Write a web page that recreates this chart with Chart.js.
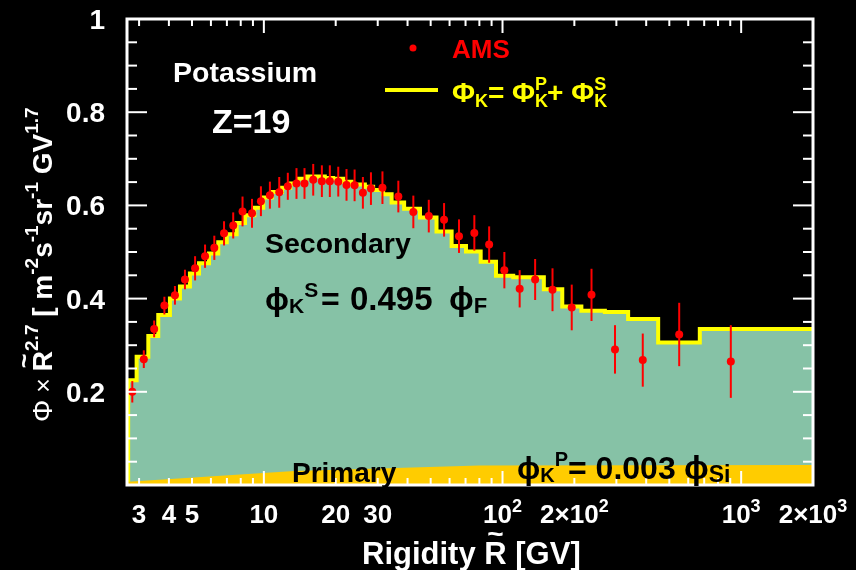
<!DOCTYPE html>
<html>
<head>
<meta charset="utf-8">
<script src="https://cdn.jsdelivr.net/npm/chart.js@4.4.0/dist/chart.umd.min.js"></script>
<style>
html, body { margin: 0; padding: 0; background: #000; }
canvas { display: block; }
</style>
</head>
<body>
<canvas id="kChart" width="856" height="570"></canvas>
<script>
// AMS potassium flux x R^2.7
const amsR = [2.81, 3.14, 3.47, 3.83, 4.24, 4.67, 5.15, 5.67, 6.2, 6.81,
    7.44, 8.14, 8.92, 9.72, 10.6, 11.6, 12.6, 13.7, 14.8, 16.1,
    17.5, 18.9, 20.5, 22.2, 24.0, 26.0, 28.1, 31.4, 36.6, 42.3,
    49.1, 56.9, 65.7, 76.2, 87.9, 101.8, 118, 137, 162, 195,
    236, 296, 387, 550, 905];
const amsFlux = [0.200, 0.270, 0.335, 0.385, 0.407, 0.441, 0.465, 0.491, 0.509, 0.540,
    0.557, 0.587, 0.583, 0.609, 0.622, 0.628, 0.641, 0.647, 0.647, 0.655,
    0.652, 0.652, 0.651, 0.644, 0.643, 0.627, 0.636, 0.638, 0.619, 0.586,
    0.577, 0.569, 0.534, 0.541, 0.516, 0.461, 0.421, 0.441, 0.419, 0.381,
    0.408, 0.291, 0.268, 0.323, 0.265];
const amsErr = [0.023, 0.019, 0.018, 0.019, 0.020, 0.021, 0.026, 0.025, 0.026, 0.026,
    0.028, 0.032, 0.031, 0.032, 0.029, 0.033, 0.029, 0.033, 0.033, 0.034,
    0.034, 0.034, 0.032, 0.034, 0.034, 0.034, 0.035, 0.035, 0.034, 0.035,
    0.035, 0.036, 0.036, 0.038, 0.039, 0.039, 0.040, 0.044, 0.046, 0.049,
    0.056, 0.052, 0.057, 0.068, 0.078];

// model histogram (total = primary + secondary)
const binEdges = [2.70, 2.93, 3.28, 3.61, 4.04, 4.45, 4.90, 5.35, 5.89, 6.44,
    6.99, 7.69, 8.34, 9.12, 9.94, 10.8, 11.9, 12.9, 13.9, 15.1,
    16.4, 18.0, 19.5, 21.5, 23.3, 26.5, 28.7, 31.6, 34.3, 38.7,
    45.1, 52.9, 61.2, 70.3, 81.0, 93.9, 110.9, 149, 178, 214,
    268.5, 336, 449, 671, 2000];
const totalFlux = [0.225, 0.275, 0.320, 0.365, 0.400, 0.426, 0.454, 0.476, 0.497, 0.521,
    0.538, 0.562, 0.579, 0.595, 0.617, 0.629, 0.638, 0.647, 0.657, 0.662,
    0.662, 0.659, 0.657, 0.651, 0.645, 0.640, 0.633, 0.624, 0.606, 0.593,
    0.574, 0.544, 0.513, 0.501, 0.479, 0.449, 0.446, 0.420, 0.383, 0.374,
    0.371, 0.356, 0.306, 0.335];

// primary component
const primaryR = [2.7, 13.4, 80, 2000];
const primaryFlux = [0.007, 0.030, 0.042, 0.043];

// axes
const xMin = 2.67, xMax = 2000;
const xMajorTicks = [10, 100, 1000];
const xMinorTicks = [3, 4, 5, 6, 7, 8, 9, 20, 30, 40, 50, 60, 70, 80, 90,
    200, 300, 400, 500, 600, 700, 800, 900];
const xLabelValues = [3, 4, 5, 10, 20, 30, 100, 200, 1000, 2000];
const xLabelBase = ['3', '4', '5', '10', '20', '30', '10', '2\u00d710', '10', '2\u00d710'];
const xLabelExp = ['', '', '', '', '', '', '2', '2', '3', '3'];
const yMajorTicks = [0.2, 0.4, 0.6, 0.8];
const yMinorTicks = [0.05, 0.1, 0.15, 0.25, 0.3, 0.35, 0.45, 0.5, 0.55, 0.65, 0.7, 0.75, 0.85, 0.9, 0.95];
const yLabelValues = [0.2, 0.4, 0.6, 0.8, 1];
const yLabels = ['0.2', '0.4', '0.6', '0.8', '1'];

const FAM = '"Liberation Sans", Arial, Helvetica, "DejaVu Sans", sans-serif';

// histogram as step points
const histPoints = [{x: binEdges[0], y: 0}];
for (let i = 0; i < totalFlux.length; i++) {
    histPoints.push({x: binEdges[i], y: totalFlux[i]});
}
histPoints.push({x: binEdges[binEdges.length - 1], y: totalFlux[totalFlux.length - 1]});

// draw a row of text pieces (sub/superscripts); r.x forces an absolute x
function drawRuns(ctx, runs, x, y, align, color) {
    let total = 0;
    runs.forEach(r => {
        ctx.font = (r.w || 'bold') + ' ' + r.s + 'px ' + FAM;
        r.width = ctx.measureText(r.t).width;
        if (!r.stack) total += r.width;
    });
    let cx = x;
    if (align === 'center') cx = x - total / 2;
    if (align === 'right') cx = x - total;
    ctx.fillStyle = color;
    ctx.textBaseline = 'alphabetic';
    runs.forEach(r => {
        if (r.x !== undefined) cx = r.x;
        ctx.font = (r.w || 'bold') + ' ' + r.s + 'px ' + FAM;
        ctx.textAlign = 'left';
        ctx.fillText(r.t, cx, y + (r.dy || 0));
        if (r.tilde) {
            ctx.font = 'bold ' + r.tilde.s + 'px ' + FAM;
            ctx.textAlign = 'center';
            ctx.fillText('~', cx + r.width / 2, y + r.tilde.dy);
        }
        if (!r.stack) cx += r.width;
    });
    ctx.textAlign = 'left';
}

const bgPlugin = {
    id: 'bg',
    beforeDraw(chart) {
        const ctx = chart.ctx;
        ctx.save();
        ctx.fillStyle = '#000';
        ctx.fillRect(0, 0, chart.width, chart.height);
        ctx.restore();
    }
};

const errorBarPlugin = {
    id: 'errorBars',
    beforeDatasetDraw(chart, args) {
        if (args.index !== 0) return;
        const ctx = chart.ctx;
        const xs = chart.scales.x, ys = chart.scales.y;
        ctx.save();
        ctx.strokeStyle = '#ff0000';
        ctx.lineWidth = 2;
        for (let i = 0; i < amsR.length; i++) {
            const px = xs.getPixelForValue(amsR[i]);
            ctx.beginPath();
            ctx.moveTo(px, ys.getPixelForValue(amsFlux[i] - amsErr[i]));
            ctx.lineTo(px, ys.getPixelForValue(amsFlux[i] + amsErr[i]));
            ctx.stroke();
        }
        ctx.restore();
    }
};

const framePlugin = {
    id: 'frame',
    afterDatasetsDraw(chart) {
        const ctx = chart.ctx;
        const a = chart.chartArea;
        const xs = chart.scales.x, ys = chart.scales.y;
        ctx.save();
        ctx.strokeStyle = '#fff';
        ctx.lineWidth = 2;
        const tick = (x1, y1, x2, y2) => {
            ctx.beginPath(); ctx.moveTo(x1, y1); ctx.lineTo(x2, y2); ctx.stroke();
        };
        xMinorTicks.forEach(v => {
            const px = xs.getPixelForValue(v);
            tick(px, a.bottom, px, a.bottom - 7);
            tick(px, a.top, px, a.top + 7);
        });
        xMajorTicks.forEach(v => {
            const px = xs.getPixelForValue(v);
            tick(px, a.bottom, px, a.bottom - 14);
            tick(px, a.top, px, a.top + 14);
        });
        yMinorTicks.forEach(v => {
            const py = ys.getPixelForValue(v);
            tick(a.left, py, a.left + 10, py);
            tick(a.right, py, a.right - 10, py);
        });
        yMajorTicks.forEach(v => {
            const py = ys.getPixelForValue(v);
            tick(a.left, py, a.left + 20, py);
            tick(a.right, py, a.right - 20, py);
        });
        ctx.lineWidth = 3;
        ctx.strokeRect(a.left, a.top, a.right - a.left, a.bottom - a.top);

        // tick labels
        xLabelValues.forEach((v, i) => {
            const runs = [{t: xLabelBase[i], s: 26}];
            if (xLabelExp[i]) runs.push({t: xLabelExp[i], s: 18, dy: -11});
            drawRuns(ctx, runs, xs.getPixelForValue(v), 523, 'center', '#fff');
        });
        yLabelValues.forEach((v, i) => {
            drawRuns(ctx, [{t: yLabels[i], s: 28}], 105, ys.getPixelForValue(v) + 10, 'right', '#fff');
        });
        ctx.restore();
    }
};

const textPlugin = {
    id: 'texts',
    afterDraw(chart) {
        const ctx = chart.ctx;
        ctx.save();
        drawRuns(ctx, [{t: 'Potassium', s: 28.5}], 173, 82, 'left', '#fff');
        drawRuns(ctx, [{t: 'Z=19', s: 34}], 212, 133, 'left', '#fff');

        // legend
        ctx.fillStyle = '#ff0000';
        ctx.beginPath(); ctx.arc(413, 48, 3.5, 0, Math.PI * 2); ctx.fill();
        drawRuns(ctx, [{t: 'AMS', s: 26}], 452, 58, 'left', '#ff0000');
        ctx.strokeStyle = '#ffff00';
        ctx.lineWidth = 4;
        ctx.beginPath(); ctx.moveTo(385, 90); ctx.lineTo(438, 90); ctx.stroke();
        drawRuns(ctx, [
            {t: '\u03a6', s: 28}, {t: 'K', s: 18, dy: 5}, {t: '= \u03a6', s: 28},
            {t: 'K', s: 18, dy: 5, stack: true}, {t: 'P', s: 18, dy: -12},
            {t: '+ \u03a6', s: 28},
            {t: 'K', s: 18, dy: 5, stack: true}, {t: 'S', s: 18, dy: -12}
        ], 452, 102, 'left', '#ffff00');

        // component labels
        drawRuns(ctx, [{t: 'Secondary', s: 28.5}], 265, 253, 'left', '#000');
        drawRuns(ctx, [
            {t: '\u03d5', s: 32}, {t: 'K', s: 21, dy: 3}, {t: 'S', s: 21, dy: -13},
            {t: '=', s: 32, x: 321}, {t: '0.495', s: 33, x: 350},
            {t: '\u03d5', s: 33, x: 449}, {t: 'F', s: 22, dy: 3}
        ], 265, 310, 'left', '#000');
        drawRuns(ctx, [{t: 'Primary', s: 28}], 292, 482, 'left', '#000');
        drawRuns(ctx, [
            {t: '\u03d5', s: 31}, {t: 'K', s: 20, dy: 3}, {t: 'P', s: 20, dy: -13},
            {t: '= 0.003', s: 32}, {t: '\u03d5', s: 33, x: 684}, {t: 'Si', s: 23, dy: 3}
        ], 517, 479, 'left', '#000');

        // axis titles
        drawRuns(ctx, [
            {t: 'Rigidity ', s: 31}, {t: 'R', s: 31, tilde: {s: 28, dy: -21}}, {t: ' [GV]', s: 31}
        ], 362, 564, 'left', '#fff');

        ctx.translate(52, 422);
        ctx.rotate(-Math.PI / 2);
        drawRuns(ctx, [
            {t: '\u03a6', s: 28, w: 'normal'}, {t: ' \u00d7 ', s: 25, w: 'normal'},
            {t: 'R', s: 28, tilde: {s: 25, dy: -19}}, {t: '2.7', s: 19, dy: -14},
            {t: ' [ m', s: 28}, {t: '-2', s: 19, dy: -14}, {t: 's', s: 28}, {t: '-1', s: 19, dy: -14},
            {t: 'sr', s: 28}, {t: '-1', s: 19, dy: -14}, {t: ' GV', s: 28}, {t: '1.7', s: 19, dy: -14}
        ], 0, 0, 'left', '#fff');
        ctx.restore();
    }
};

new Chart(document.getElementById('kChart'), {
    type: 'scatter',
    data: {
        datasets: [
            {
                label: 'AMS',
                data: amsR.map((r, i) => ({x: r, y: amsFlux[i]})),
                pointRadius: 4,
                pointBackgroundColor: '#ff0000',
                pointBorderWidth: 0,
                order: 0
            },
            {
                label: 'total',
                data: histPoints,
                showLine: true,
                stepped: true,
                borderColor: '#ffff00',
                borderWidth: 4,
                backgroundColor: '#86c2a6',
                fill: 'origin',
                pointRadius: 0,
                order: 2
            },
            {
                label: 'primary',
                data: primaryR.map((r, i) => ({x: r, y: primaryFlux[i]})),
                showLine: true,
                borderWidth: 0,
                borderColor: 'rgba(0,0,0,0)',
                backgroundColor: '#ffcc00',
                fill: 'origin',
                pointRadius: 0,
                order: 1
            }
        ]
    },
    options: {
        responsive: false,
        animation: false,
        devicePixelRatio: 1,
        layout: {padding: {left: 127, right: 43, top: 19, bottom: 85}},
        plugins: {legend: {display: false}, tooltip: {enabled: false}},
        scales: {
            x: {type: 'logarithmic', min: xMin, max: xMax, bounds: 'data', display: false},
            y: {type: 'linear', min: 0, max: 1, display: false}
        }
    },
    plugins: [bgPlugin, errorBarPlugin, framePlugin, textPlugin]
});
</script>
</body>
</html>
